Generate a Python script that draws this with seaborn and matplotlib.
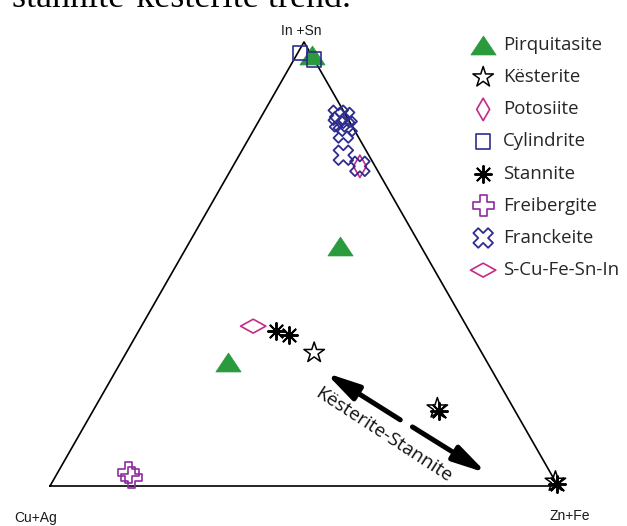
import numpy as np
import pandas as pd
import matplotlib
matplotlib.use('Agg')
import matplotlib.pyplot as plt
from matplotlib.path import Path
import seaborn as sns

# Compositions: (Cu+Ag, Zn+Fe, In+Sn) in %
pirquitasite = [(0, 3, 97), (16, 30, 54), (51, 21, 28)]
kesterite = [(33, 37, 30), (15, 67.5, 17.5), (0, 99, 1)]
potosiite = [(3, 25, 72)]
cylindrite = [(2, 0.5, 97.5), (0, 4, 96)]
stannite = [(38, 27, 35), (36, 30, 34), (15, 68, 17), (0, 99.5, 0.5)]
freibergite = [(83, 14, 3), (83, 15, 2)]
franckeite = [(1.5, 15, 83.5), (0.5, 16.5, 83), (2, 16, 82), (1, 18, 81),
              (2.5, 18, 79.5), (5, 20.5, 74.5), (3, 25, 72)]
scufesnin = [(42, 22, 36)]

corners = [(100, 0, 0), (0, 100, 0), (0, 0, 100), (100, 0, 0)]
corner_labels = ['Cu+Ag', 'Zn+Fe', 'In +Sn']

# kesterite-stannite trend arrows (tail, tip)
trend_up = [(23.6, 61.5, 14.9), (33, 41.5, 25.5)]
trend_down = [(22, 64.7, 13.3), (12.6, 84.5, 2.9)]
trend_label = (28.5, 60, 11.5)


def to_xy(comp):
    comp = np.atleast_2d(np.array(comp, dtype=float)) / 100.0
    b, c = comp[:, 1], comp[:, 2]
    return b + c / 2, c * np.sqrt(3) / 2


def closed(verts):
    verts = list(verts) + [verts[0]]
    return Path(verts, closed=True)


green = '#2b9a3c'
navy = '#2e2d8f'
magenta = '#c42a86'
purple = '#8e2c9e'

tri_marker = closed([(-1, -0.75), (1, -0.75), (0, 0.75)])
tall_diamond = closed([(0, 1), (0.58, 0), (0, -1), (-0.58, 0)])
wide_diamond = closed([(-1, 0), (0, 0.55), (1, 0), (0, -0.55)])

minerals = [
    ('Pirquitasite', pirquitasite, dict(marker=tri_marker, s=330, facecolor=green, edgecolor=green, linewidth=0.5)),
    ('Kësterite', kesterite, dict(marker='*', s=240, facecolor='none', edgecolor='black', linewidth=1.1)),
    ('Potosiite', potosiite, dict(marker=tall_diamond, s=260, facecolor='none', edgecolor=magenta, linewidth=1.2)),
    ('Cylindrite', cylindrite, dict(marker='s', s=110, facecolor='none', edgecolor=navy, linewidth=1.2)),
    ('Stannite', stannite, dict(marker=(8, 2, 0), s=150, color='black', linewidth=1.4)),
    ('Freibergite', freibergite, dict(marker='P', s=230, facecolor='none', edgecolor=purple, linewidth=1.2)),
    ('Franckeite', franckeite, dict(marker='X', s=200, facecolor='none', edgecolor=navy, linewidth=1.3)),
    ('S-Cu-Fe-Sn-In', scufesnin, dict(marker=wide_diamond, s=330, facecolor='none', edgecolor=magenta, linewidth=1.2)),
]

sns.set_theme(style='white')
plt.rcParams['font.family'] = ['Open Sans', 'DejaVu Sans']

fig = plt.figure(figsize=(6.27, 5.26), dpi=100)
ax = fig.add_axes([0, 0, 1, 1])
ax.set_xlim(-50 / 508, 577 / 508)
ax.set_ylim(-40 / 512.7, 486 / 512.7)
ax.axis('off')

# triangle outline
cx, cy = to_xy(corners)
ax.plot(cx, cy, color='black', linewidth=1.2, zorder=1)

for name, comp, style in minerals:
    x, y = to_xy(comp)
    df = pd.DataFrame({'x': x, 'y': y})
    sns.scatterplot(data=df, x='x', y='y', ax=ax, label=name, zorder=3, **style)

# corner labels
lx, ly = to_xy(corners[:3])
offsets = [(-0.029 - lx[0], -0.062), (1.024 - lx[1], -0.058), (0.494 - lx[2], 0.8875 - ly[2])]
for lab, x0, y0, (dx, dy) in zip(corner_labels, lx, ly, offsets):
    ax.text(x0 + dx, y0 + dy, lab, ha='center', va='center', fontsize=10,
            family=['Liberation Sans', 'DejaVu Sans'], color='#1a1a1a')

# trend arrows
for arrow in (trend_up, trend_down):
    ax_, ay_ = to_xy(arrow)
    ax.annotate('', xy=(ax_[1], ay_[1]), xytext=(ax_[0], ay_[0]),
                arrowprops=dict(arrowstyle='-|>,head_length=1.0,head_width=0.25',
                                lw=3.6, color='black', shrinkA=0, shrinkB=0,
                                mutation_scale=20), zorder=2)
tx, ty = to_xy(trend_label)
ax.text(tx[0], ty[0], 'Kësterite-Stannite', rotation=-33, rotation_mode='anchor',
        ha='center', va='center', fontsize=13.8, color='#111111')

ax.legend(loc='upper left', bbox_to_anchor=(472 / 627, 1 - 36 / 526), frameon=False,
          prop={'family': 'Open Sans', 'size': 13.4}, handlelength=1.2,
          handletextpad=0.48, labelspacing=0.76, borderpad=0, borderaxespad=0,
          scatterpoints=1)

# caption text from the page above, cut off by the crop
fig.text(12 / 627, 1 - 7 / 526, 'stannite-kesterite trend.', ha='left', va='baseline',
         fontsize=26, family=['Liberation Serif', 'DejaVu Serif'], color='black')

fig.savefig('out.png', dpi=100)
